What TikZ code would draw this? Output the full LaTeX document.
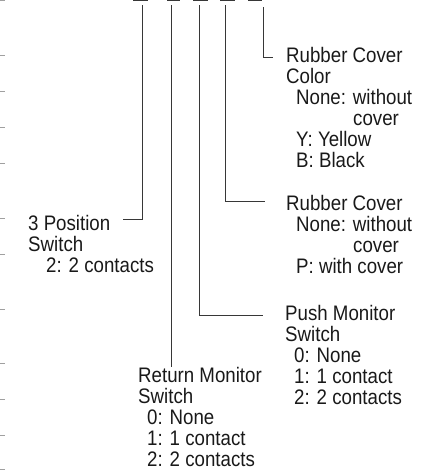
\documentclass[tikz,border=0pt]{standalone}
\usepackage{fontspec}
\setmainfont[FakeStretch=0.89]{Liberation Sans}
\usepackage{xcolor}
\usepackage{tikz}
\usetikzlibrary{positioning}
\definecolor{leadgray}{RGB}{55,55,55}
\definecolor{tickgray}{RGB}{160,160,160}
\definecolor{textgray}{RGB}{25,25,25}

\begin{document}
\begin{tikzpicture}[x=1pt, y=-1pt,
    codetext/.style={inner sep=0pt, anchor=base west, align=left, text=textgray,
      font=\fontsize{21}{21}\selectfont},
    leader/.style={draw=leadgray, line width=0.9pt},
    slotline/.style={draw=leadgray, line width=1.4pt},
    edgetick/.style={draw=tickgray, line width=1pt}]
    \useasboundingbox (0,0) rectangle (429,472);
    % code slots at the top and the marks on the left edge
    \foreach \a/\b in {133/148, 167/180, 193/208, 220/235, 248/262}
        \draw[slotline] (\a,0.5) -- (\b,0.5);
    \foreach \y in {0.5,55,91,127,163,218,254,309,363,399,435,469}
        \draw[edgetick] (0,\y) -- (5,\y);
    % start points of the leaders
    \coordinate (s1) at (142,5);
    \coordinate (s2) at (171,5);
    \coordinate (s3) at (199,5);
    \coordinate (s4) at (225,5);
    \coordinate (s5) at (263,7);
    % texts (placed by the baseline of their last line)
    \node[codetext] (covercolor) at (286,167) {Rubber Cover\\Color\\
        \hspace*{10pt}None: without\\\hspace*{67pt}cover\\
        \hspace*{10pt}Y: Yellow\\\hspace*{10pt}B: Black};
    \node[codetext] (cover) at (286,273.5) {Rubber Cover\\
        \hspace*{10pt}None: without\\\hspace*{67pt}cover\\
        \hspace*{10pt}P: with cover};
    \node[codetext] (pushmon) at (285,404.5) {Push Monitor\\Switch\\
        \hspace*{9pt}0: None\\\hspace*{9pt}1: 1 contact\\\hspace*{9pt}2: 2 contacts};
    \node[codetext] (retmon) at (138,466.5) {Return Monitor\\Switch\\
        \hspace*{9pt}0: None\\\hspace*{9pt}1: 1 contact\\\hspace*{9pt}2: 2 contacts};
    \node[codetext] (pos3) at (28,272) {3 Position\\Switch\\
        \hspace*{18pt}2: 2 contacts};
    % leaders
    \draw[leader] (s5) |- ([xshift=-13pt, yshift=110pt]covercolor.base west);
    \draw[leader] (s4) |- ([xshift=-21pt, yshift=72pt]cover.base west);
    \draw[leader] (s3) |- ([xshift=-22pt, yshift=89.5pt]pushmon.base west);
    \draw[leader] (s2) -- (s2 |- retmon.north);
    \draw[leader] (s1) |- ([xshift=95pt, yshift=53pt]pos3.base west);
\end{tikzpicture}
\end{document}
